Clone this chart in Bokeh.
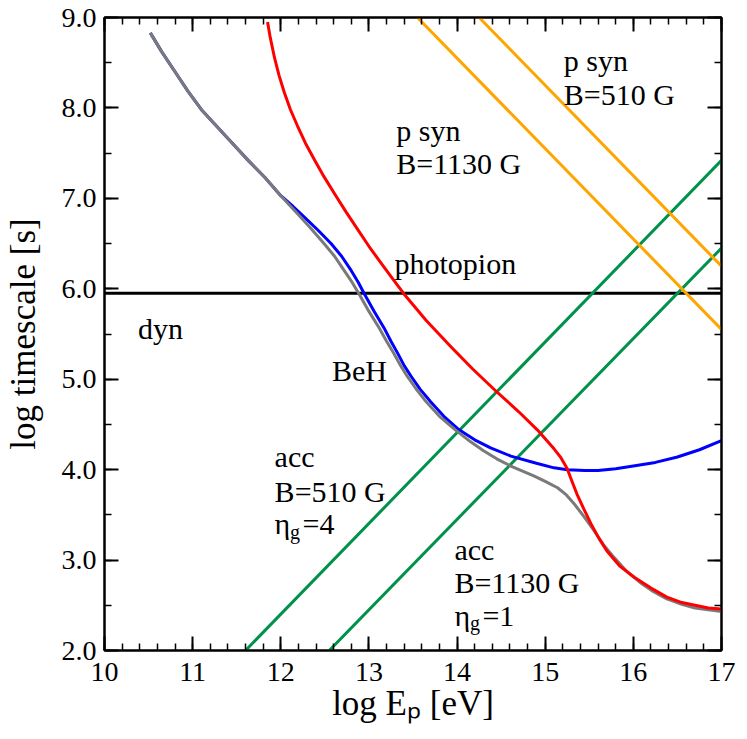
from bokeh.plotting import figure
from bokeh.models import Label, LinearAxis, FixedTicker, PrintfTickFormatter, Range1d
from bokeh.embed import file_html
from bokeh.resources import INLINE

# ---------------- data (log E_p [eV], log timescale [s]) ----------------
total_x = [10.52, 10.65, 10.8, 10.95, 11.1, 11.27, 11.44, 11.63, 11.82, 12.0, 12.19,
           12.34, 12.49, 12.61, 12.72, 12.81, 12.89, 13.0, 13.12, 13.2, 13.28, 13.36,
           13.43, 13.53, 13.65, 13.8, 13.98, 14.15, 14.3, 14.45, 14.61, 14.75, 14.87,
           15.0, 15.14, 15.24, 15.33, 15.44, 15.55, 15.66, 15.78, 15.92, 16.08, 16.23,
           16.38, 16.55, 16.7, 16.85, 17.0]
total_y = [8.83, 8.62, 8.40, 8.18, 7.98, 7.80, 7.62, 7.42, 7.23, 7.03, 6.83,
           6.67, 6.50, 6.36, 6.20, 6.07, 5.94, 5.75, 5.56, 5.42, 5.29, 5.15,
           5.04, 4.90, 4.75, 4.59, 4.44, 4.31, 4.21, 4.12, 4.04, 3.98, 3.93,
           3.87, 3.80, 3.72, 3.62, 3.48, 3.33, 3.17, 3.03, 2.88, 2.75, 2.65,
           2.57, 2.51, 2.47, 2.45, 2.43]

beh_x = [10.52, 10.65, 10.8, 10.95, 11.1, 11.27, 11.44, 11.63, 11.82, 12.0, 12.14,
         12.27, 12.42, 12.57, 12.69, 12.80, 12.88, 12.95, 13.06, 13.17, 13.25, 13.33,
         13.40, 13.48, 13.58, 13.70, 13.85, 14.01, 14.2, 14.38, 14.61, 14.9, 15.1,
         15.25, 15.45, 15.6, 15.8, 16.0, 16.25, 16.5, 16.75, 17.0]
beh_y = [8.83, 8.62, 8.40, 8.18, 7.98, 7.80, 7.62, 7.42, 7.23, 7.03, 6.91,
         6.79, 6.65, 6.50, 6.36, 6.20, 6.07, 5.94, 5.75, 5.57, 5.42, 5.28,
         5.15, 5.03, 4.89, 4.75, 4.59, 4.45, 4.33, 4.24, 4.15, 4.07, 4.02,
         4.00, 3.99, 3.99, 4.01, 4.04, 4.08, 4.14, 4.22, 4.32]

pgamma_x = [11.85, 11.88, 11.93, 11.98, 12.04, 12.11, 12.19, 12.28, 12.38, 12.49,
            12.61, 12.74, 12.87, 13.0, 13.14, 13.27, 13.40, 13.65, 13.93, 14.18,
            14.44, 14.70, 14.91, 15.10, 15.18, 15.25, 15.30, 15.36, 15.44, 15.52,
            15.61, 15.70, 15.85, 16.01, 16.2, 16.38, 16.55, 16.7, 16.85, 17.0]
pgamma_y = [8.95, 8.78, 8.55, 8.36, 8.17, 7.98, 7.80, 7.61, 7.43, 7.24,
            7.05, 6.85, 6.66, 6.47, 6.28, 6.11, 5.94, 5.65, 5.36, 5.11,
            4.87, 4.64, 4.44, 4.23, 4.13, 4.01, 3.88, 3.73, 3.56, 3.40,
            3.24, 3.10, 2.93, 2.81, 2.69, 2.59, 2.53, 2.50, 2.47, 2.46]

dyn_x = [10.0, 17.0]
dyn_y = [5.95, 5.95]

acc510_x = [11.6, 17.0]
acc510_y = [2.0, 7.42]
acc1130_x = [12.55, 17.0]
acc1130_y = [2.0, 6.45]

psyn1130_x = [13.55, 17.0]
psyn1130_y = [9.0, 5.55]
psyn510_x = [14.25, 17.0]
psyn510_y = [9.0, 6.25]

x_ticks = [10, 11, 12, 13, 14, 15, 16, 17]
x_minor = [round(10 + 0.2 * i, 1) for i in range(36)]
y_ticks = [2, 3, 4, 5, 6, 7, 8, 9]
y_minor = [round(2 + 0.5 * i, 1) for i in range(15)]

FONT = "Liberation Serif"

p = figure(width=747, height=739, x_range=Range1d(10, 17), y_range=Range1d(2, 9),
           output_backend="svg", toolbar_location=None,
           x_axis_location=None, y_axis_location=None,
           min_border_left=103, min_border_right=26, min_border_top=17, min_border_bottom=89)
p.xgrid.visible = False
p.ygrid.visible = False
p.outline_line_color = "black"
p.outline_line_width = 2
p.background_fill_color = "white"
p.border_fill_color = "white"


def style_axis(ax, labels):
    ax.axis_line_width = 2
    ax.axis_line_color = "black"
    ax.major_tick_line_width = 2
    ax.minor_tick_line_width = 1.5
    ax.major_tick_in = 14
    ax.major_tick_out = 0
    ax.minor_tick_in = 7
    ax.minor_tick_out = 0
    ax.major_label_text_font = FONT
    ax.major_label_text_color = "black"
    ax.axis_label_text_font = FONT
    ax.axis_label_text_font_size = "35px"
    ax.axis_label_text_font_style = "normal"
    ax.axis_label_text_color = "black"
    if labels:
        ax.major_label_text_font_size = "28px"
    else:
        ax.major_label_text_font_size = "0px"
        ax.major_label_standoff = 0


xb = LinearAxis(ticker=FixedTicker(ticks=x_ticks, minor_ticks=x_minor),
                formatter=PrintfTickFormatter(format="%d"))
style_axis(xb, True)
xb.major_label_standoff = 12
xb.axis_label = "log E\u209a [eV]"
xb.axis_label_standoff = 0
p.add_layout(xb, "below")

xt = LinearAxis(ticker=FixedTicker(ticks=x_ticks, minor_ticks=x_minor),
                major_label_overrides={t: "" for t in x_ticks})
style_axis(xt, False)
p.add_layout(xt, "above")

yl = LinearAxis(ticker=FixedTicker(ticks=y_ticks, minor_ticks=y_minor),
                formatter=PrintfTickFormatter(format="%.1f"))
style_axis(yl, True)
yl.major_label_standoff = 8
yl.axis_label = "log timescale [s]"
yl.axis_label_standoff = 16
p.add_layout(yl, "left")

yr = LinearAxis(ticker=FixedTicker(ticks=y_ticks, minor_ticks=y_minor),
                major_label_overrides={t: "" for t in y_ticks})
style_axis(yr, False)
p.add_layout(yr, "right")

# ---------------- lines ----------------
LW = 3
p.line(dyn_x, dyn_y, line_color="black", line_width=LW)
p.line(acc510_x, acc510_y, line_color="#00914a", line_width=LW)
p.line(acc1130_x, acc1130_y, line_color="#00914a", line_width=LW)
p.line(psyn1130_x, psyn1130_y, line_color="#ffa500", line_width=LW)
p.line(psyn510_x, psyn510_y, line_color="#ffa500", line_width=LW)
p.line(beh_x, beh_y, line_color="#0000ff", line_width=LW, line_join="round")
p.line(total_x, total_y, line_color="#7a7a7a", line_width=LW, line_join="round")
p.line(pgamma_x, pgamma_y, line_color="#ff0000", line_width=LW, line_join="round")


# ---------------- texts ----------------
def lab(x, y, text, size="30px", xo=0, yo=0):
    p.add_layout(Label(x=x, y=y, text=text, x_offset=xo, y_offset=yo,
                       text_font=FONT, text_font_size=size, text_color="black",
                       text_baseline="alphabetic", text_align="left"))


lab(15.21, 8.52, "p syn")
lab(15.21, 8.15, "B=510 G")
lab(13.31, 7.75, "p syn")
lab(13.31, 7.38, "B=1130 G")
lab(13.29, 6.28, "photopion")
lab(10.38, 5.56, "dyn")
lab(12.58, 5.10, "BeH")

lab(11.93, 4.14, "acc")
lab(11.93, 3.76, "B=510 G")
lab(11.93, 3.40, "\u03b7")
lab(11.93, 3.40, "g", size="20px", xo=15.5, yo=-8)
lab(11.93, 3.40, "=4", xo=28)

lab(13.97, 3.12, "acc")
lab(13.97, 2.75, "B=1130 G")
lab(13.97, 2.39, "\u03b7")
lab(13.97, 2.39, "g", size="20px", xo=15.5, yo=-8)
lab(13.97, 2.39, "=1", xo=28)

open("out.html", "w").write(file_html(p, INLINE))
